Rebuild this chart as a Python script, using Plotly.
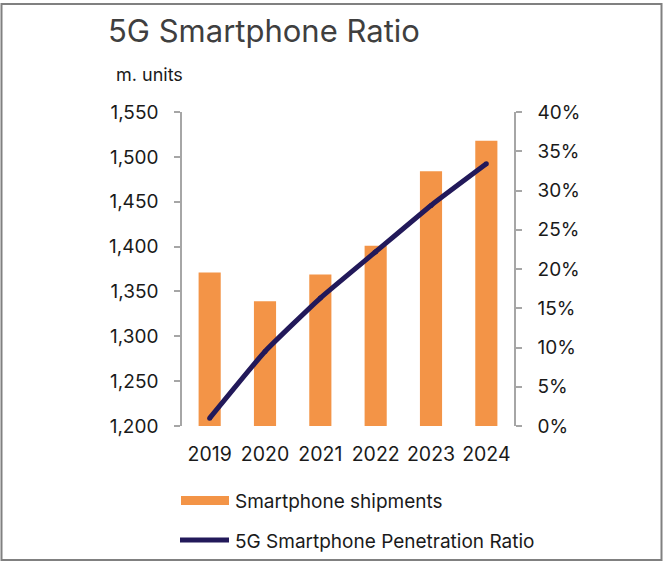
import plotly.graph_objects as go

years = ["2019", "2020", "2021", "2022", "2023", "2024"]
shipments = [1371, 1339, 1369, 1401, 1484, 1518]
penetration = [1.0, 9.5, 16.3, 22.2, 28.1, 33.4]
left_ticks = [1200, 1250, 1300, 1350, 1400, 1450, 1500, 1550]
right_ticks = [0, 5, 10, 15, 20, 25, 30, 35, 40]
right_tick_labels = ["0%", "5%", "10%", "15%", "20%", "25%", "30%", "35%", "40%"]

BAR = "#F39447"
LINE = "#22195A"
AX = "#A6A6A6"
FONT = "Inter"
TXT = "#1A1A1A"

W, H = 670, 564
L, R, T, B = 182, 156, 112, 138
pw, ph = W - L - R, H - T - B


def px(x):
    return (x - L) / pw


def py(y):
    return (H - B - y) / ph


fig = go.Figure()
fig.add_trace(go.Bar(x=years, y=shipments, marker=dict(color=BAR, line=dict(width=0)),
                     name="Smartphone shipments", showlegend=False))
fig.add_trace(go.Scatter(x=years, y=penetration, yaxis="y2", mode="lines+markers",
                         line=dict(color=LINE, width=5, shape="spline", smoothing=0.4),
                         marker=dict(size=5, color=LINE),
                         name="5G Smartphone Penetration Ratio", showlegend=False))

fig.update_layout(
    width=W, height=H,
    margin=dict(l=L, r=R, t=T, b=B),
    paper_bgcolor="white", plot_bgcolor="white",
    font=dict(family=FONT, size=19, color=TXT),
    bargap=0.6,
    xaxis=dict(type="category", showline=False, ticks="", showgrid=False,
               tickfont=dict(size=19.5, color=TXT), ticklabelstandoff=14),
    yaxis=dict(range=[1200, 1550], tickvals=left_ticks, tickformat=",", showgrid=False,
               zeroline=False, showline=True, linecolor=AX, linewidth=1.5,
               ticks="outside", ticklen=6, tickcolor=AX, tickwidth=1.5,
               ticklabelstandoff=12, tickfont=dict(size=19, color=TXT)),
    yaxis2=dict(range=[0, 40], tickmode="array", tickvals=right_ticks, ticktext=right_tick_labels,
                overlaying="y", side="right", showgrid=False, zeroline=False, showline=True,
                linecolor=AX, linewidth=1.5, ticks="outside", ticklen=6, tickcolor=AX,
                tickwidth=1.5, ticklabelstandoff=12, tickfont=dict(size=19, color=TXT)),
    showlegend=False,
)

shapes = [
    # outer frame
    dict(type="rect", xref="paper", yref="paper", x0=px(1.5), x1=px(661.5), y0=py(560), y1=py(4),
         line=dict(color="#808080", width=2), fillcolor="rgba(0,0,0,0)"),
    # legend swatches
    dict(type="rect", xref="paper", yref="paper", x0=px(181), x1=px(229), y0=py(505), y1=py(496),
         line=dict(width=0), fillcolor=BAR),
    dict(type="line", xref="paper", yref="paper", x0=px(180), x1=px(229), y0=py(540), y1=py(540),
         line=dict(color=LINE, width=5)),
]
fig.update_layout(shapes=shapes)

annotations = [
    dict(text="5G Smartphone Ratio", xref="paper", yref="paper", x=px(106), y=py(31),
         xanchor="left", yanchor="middle", showarrow=False,
         font=dict(family=FONT, size=31, color="#3F3F3F")),
    dict(text="m. units", xref="paper", yref="paper", x=px(114), y=py(75),
         xanchor="left", yanchor="middle", showarrow=False,
         font=dict(family=FONT, size=18, color=TXT)),
    dict(text="Smartphone shipments", xref="paper", yref="paper", x=px(233), y=py(501),
         xanchor="left", yanchor="middle", showarrow=False,
         font=dict(family=FONT, size=19, color=TXT)),
    dict(text="5G Smartphone Penetration Ratio", xref="paper", yref="paper", x=px(233), y=py(541),
         xanchor="left", yanchor="middle", showarrow=False,
         font=dict(family=FONT, size=19, color=TXT)),
]
fig.update_layout(annotations=annotations)

fig.write_html("out.html")
